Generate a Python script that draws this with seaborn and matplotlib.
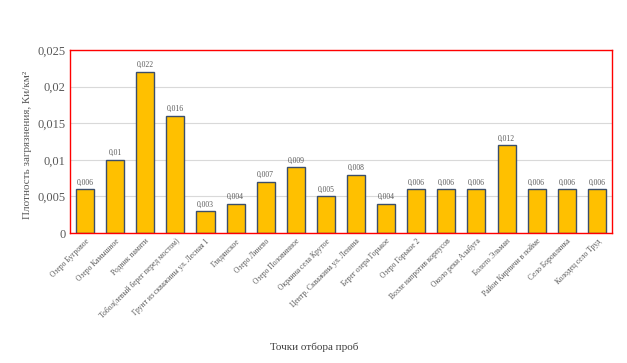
import matplotlib
matplotlib.use("Agg")
import matplotlib.pyplot as plt
import seaborn as sns
import pandas as pd

categories = [
    "Озеро Бугровое",
    "Озеро Камышное",
    "Родник памяти",
    "Тобол(левый берег перед мостом)",
    "Грунт из скважины ул. Лесная 1",
    "Глядянское",
    "Озеро Линево",
    "Озеро Половинное",
    "Окраина села Крутое",
    "Центр. Скважина ул. Ленина",
    "Берег озера Горькое",
    "Озеро Горькое 2",
    "Возле напротив корпусов",
    "Около реки Алабуга",
    "Болото Эльман",
    "Район Кирпичи в пойме",
    "Село Боровлянка",
    "Колодец село Труд",
]
values = [0.006, 0.01, 0.022, 0.016, 0.003, 0.004, 0.007, 0.009, 0.005,
          0.008, 0.004, 0.006, 0.006, 0.006, 0.012, 0.006, 0.006, 0.006]
yticks = [0, 0.005, 0.01, 0.015, 0.02, 0.025]

sns.set_theme(style="white")
plt.rcParams["font.family"] = ["Liberation Serif", "DejaVu Serif"]

df = pd.DataFrame({"cat": categories, "val": values})

fig = plt.figure(figsize=(6.27, 3.63), dpi=100)
ax = fig.add_axes([0.1116, 0.358, 0.8644, 0.504])

sns.barplot(data=df, x="cat", y="val", color="#FFC000", edgecolor="#3B4E6B",
            linewidth=1.0, width=0.6, saturation=1, ax=ax)

ax.set_ylim(0, 0.025)
ax.set_yticks(yticks)
ax.set_yticklabels([("%g" % t).replace(".", ",") for t in yticks],
                   fontsize=9, color="#595959")
ax.yaxis.grid(True, color="#D9D9D9", linewidth=0.8)
ax.set_axisbelow(True)
ax.set_xlim(-0.5, len(categories) - 0.5)

ax.set_xticks(range(len(categories)))
ax.set_xticklabels(categories, rotation=45, ha="right", rotation_mode="anchor",
                   fontsize=5.5, color="#595959")
ax.tick_params(axis="both", length=0, pad=3)

for s in ax.spines.values():
    s.set_color("#FF0000")
    s.set_linewidth(1.0)

ax.bar_label(ax.containers[0],
             labels=[("%g" % v).replace(".", ",") for v in values],
             fontsize=5.5, color="#595959", padding=2)

ax.set_xlabel("Точки отбора проб", fontsize=8, color="#404040", labelpad=0)
ax.xaxis.set_label_coords(0.45, -0.6)
ax.set_ylabel("Плотность загрязнения, Ки/км²", fontsize=8, color="#595959")
ax.yaxis.set_label_coords(-0.07, 0.48)

fig.savefig("out.png", dpi=100, facecolor="white")
